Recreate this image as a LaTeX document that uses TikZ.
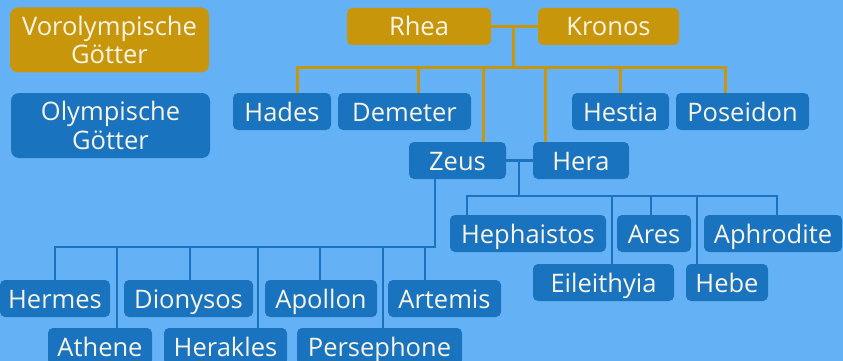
\documentclass[tikz,border=0pt]{standalone}
\usepackage{fontspec}
\setmainfont{Open Sans}
\usepackage{tikz}
\definecolor{skyblue}{HTML}{64B2F5}
\definecolor{godblue}{HTML}{1A73BE}
\definecolor{titangold}{HTML}{C8960A}
\definecolor{namewhite}{HTML}{F8F5E6}
\tikzset{
    namebox/.style={fill=godblue, text=namewhite, inner sep=0pt,
        font=\fontsize{25.5}{28.5}\selectfont}, % common look of all boxes
    godbox/.style={namebox, rounded corners=5pt, minimum width=#1,
        minimum height=37pt, text height=22pt, text depth=3pt}, % preset style for an olympian
    titanbox/.style={godbox=#1, fill=titangold}, % preset style for a titan
    keybox/.style={namebox, minimum width=199pt, minimum height=65pt,
        align=center, rounded corners=8pt}, % legend boxes
    goldline/.style={draw=titangold, line width=3pt},
    blueline/.style={draw=godblue, line width=2.5pt},
}

\begin{document}
\begin{tikzpicture}[x=1pt, y=-1pt]
        \fill[fill=skyblue] (0, 0) rectangle (843, 361);
        \useasboundingbox (0, 0) rectangle (843, 361);
        % legend
        \node[keybox, fill=titangold] (vor) at (109.5, 40) {Vorolympische\\Götter};
        \node[keybox] (oly) at (110.5, 125.5) {Olympische\\Götter};
        % titans and their children
        \node[titanbox=144pt] (rhea) at (419, 26.5) {Rhea};
        \node[titanbox=141pt] (kronos) at (608.5, 26.5) {Kronos};
        \node[godbox=98pt] (hades) at (282, 111.5) {Hades};
        \node[godbox=133pt] (demeter) at (404.5, 111.5) {Demeter};
        \node[godbox=97pt] (hestia) at (620.5, 111.5) {Hestia};
        \node[godbox=133pt] (poseidon) at (742.5, 111.5) {Poseidon};
        \node[godbox=97pt] (zeus) at (457.5, 160.5) {Zeus};
        \node[godbox=96pt] (hera) at (581, 160.5) {Hera};
        \coordinate (rk) at (513, 26.5);
        \coordinate (titans) at (513, 68);
        \draw[goldline] (rhea.east) -- (kronos.west);
        \draw[goldline] (rk) -- (titans);
        \draw[goldline] ([xshift=15pt]hades.north) |- (titans) -| ([xshift=-17.5pt]poseidon.north);
        \draw[goldline] (titans) -| ([xshift=13.5pt]demeter.north);
        \draw[goldline] (titans) -| ([xshift=25.5pt]zeus.north);
        \draw[goldline] (titans) -| ([xshift=-36pt]hera.north);
        \draw[goldline] (titans) -| (hestia.north);
        % zeus and hera
        \node[godbox=156pt] (hephaistos) at (528, 233.5) {Hephaistos};
        \node[godbox=74pt] (ares) at (654, 233.5) {Ares};
        \node[godbox=138pt] (aphrodite) at (773, 233.5) {Aphrodite};
        \node[godbox=141pt] (eileithyia) at (603.5, 282.5) {Eileithyia};
        \node[godbox=82pt] (hebe) at (727, 282.5) {Hebe};
        \coordinate (zh) at (519, 160.5);
        \coordinate (olymp) at (519, 196);
        \draw[blueline] (zeus.east) -- (hera.west);
        \draw[blueline] (zh) -- (olymp);
        \draw[blueline] ([xshift=-61pt]hephaistos.north) |- (olymp) -| ([xshift=4pt]aphrodite.north);
        \draw[blueline] (olymp) -| ([xshift=8.5pt]eileithyia.north);
        \draw[blueline] (olymp) -| ([xshift=-3pt]ares.north);
        \draw[blueline] (olymp) -| ([xshift=-30pt]hebe.north);
        % children of zeus
        \node[godbox=110pt] (hermes) at (55, 298.5) {Hermes};
        \node[godbox=129pt] (dionysos) at (188.5, 298.5) {Dionysos};
        \node[godbox=112pt] (apollon) at (321, 298.5) {Apollon};
        \node[godbox=113pt] (artemis) at (444.5, 298.5) {Artemis};
        \node[godbox=104pt] (athene) at (100, 346.5) {Athene};
        \node[godbox=123pt] (herakles) at (225.5, 346.5) {Herakles};
        \node[godbox=165pt] (persephone) at (379.5, 346.5) {Persephone};
        \coordinate (zkids) at (435, 247);
        \draw[blueline] ([xshift=-22.5pt]zeus.south) -- (zkids) -| (hermes.north);
        \draw[blueline] (zkids) -| ([xshift=-19.5pt]artemis.north);
        \draw[blueline] (zkids) -| ([xshift=17pt]athene.north);
        \draw[blueline] (zkids) -| ([xshift=1.5pt]dionysos.north);
        \draw[blueline] (zkids) -| ([xshift=32.5pt]herakles.north);
        \draw[blueline] (zkids) -| ([xshift=-1pt]apollon.north);
        \draw[blueline] (zkids) -| ([xshift=3.5pt]persephone.north);
    \end{tikzpicture}
\end{document}
